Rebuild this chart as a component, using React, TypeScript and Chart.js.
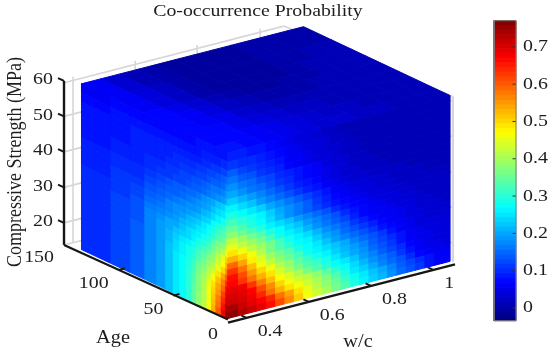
import React, { useEffect, useRef } from "react";
import { Chart, registerables } from "chart.js";

Chart.register(...registerables);

const TITLE = "Co-occurrence Probability";
const strengthTicks = [20, 30, 40, 50, 60];
const ageTicks = [0, 50, 100, 150];
const wcTicks = [0.4, 0.6, 0.8, 1];
const barTicks = [0, 0.1, 0.2, 0.3, 0.4, 0.5, 0.6, 0.7];
const barMin = -0.034;
const barMax = 0.77;

const strengthEdges = [14.8, 16.5, 18.2, 19.9, 21.6, 23.3, 25, 26.7, 28.4, 30.1, 31.8, 33.5, 35.2, 36.9, 38.6, 40.3, 42.3, 44.3, 46.3, 48.3, 50.3, 52.3, 54.3, 56.3, 58.8, 61.5];
const wcEdges = [0.34, 0.37, 0.4, 0.43, 0.46, 0.49, 0.52, 0.55, 0.58, 0.61, 0.64, 0.67, 0.7, 0.73, 0.76, 0.79, 0.82, 0.85, 0.88, 0.91, 0.94, 0.97, 1, 1.03, 1.054];
const ageEdges = [134, 108, 90, 77, 66, 58, 51, 45, 39, 34, 30, 25, 20, 16, 12, 7, 3, 0];
const topAgeEdges = [0, 12, 25, 39, 51, 66, 77, 90, 108, 134];
const topWcEdges = [0.34, 0.4, 0.46, 0.52, 0.58, 0.64, 0.7, 0.76, 0.82, 0.88, 0.94, 1, 1.054];

// probability x 100, rows from low strength to high strength, columns by w/c
const wcFaceValues = [
  [76,73,71,69,66,61,56,51,46,43,40,36,33,29,26,23,21,18,15,13,11,8,6,6],
  [74,71,69,67,64,58,54,49,45,41,38,35,31,28,25,22,20,17,14,12,10,8,6,6],
  [71,70,68,64,58,53,49,46,43,40,37,33,29,25,23,20,17,15,13,10,7,6,5,5],
  [70,69,67,61,56,50,46,43,41,38,34,30,27,24,21,18,16,14,11,8,6,5,5,4],
  [69,68,63,57,52,47,44,40,36,33,30,27,25,22,19,17,14,12,10,7,6,5,4,4],
  [67,63,58,53,49,44,40,36,33,31,28,25,22,20,18,15,13,11,8,6,5,5,4,4],
  [66,61,55,50,46,41,38,34,31,28,26,23,21,19,17,14,12,10,8,6,5,4,4,4],
  [63,58,52,46,42,38,35,32,28,26,24,22,20,17,15,13,11,8,6,5,4,4,4,3],
  [59,54,48,44,39,36,33,29,27,25,22,19,17,15,13,11,8,7,6,5,4,3,3,3],
  [53,50,46,41,36,33,30,27,26,23,20,18,15,13,11,9,7,6,5,4,4,3,3,3],
  [49,46,42,39,36,32,28,26,24,21,18,16,14,11,9,7,6,6,5,4,3,3,3,2],
  [45,42,39,36,32,28,26,24,21,18,16,14,12,9,7,6,6,5,4,4,3,3,2,2],
  [42,39,36,33,29,27,24,22,19,17,15,13,10,8,7,6,5,4,4,3,3,2,2,2],
  [38,35,32,29,26,24,22,19,17,15,13,10,8,7,6,5,4,4,3,3,2,2,2,2],
  [35,32,29,27,24,21,18,16,14,12,10,8,7,6,5,4,4,3,3,2,2,2,2,2],
  [32,30,28,26,23,20,18,16,14,11,9,7,6,5,4,4,3,3,2,2,2,2,2,1],
  [29,27,25,23,20,18,16,14,12,10,8,6,5,4,4,3,3,2,2,2,2,1,1,1],
  [26,24,22,19,17,15,13,11,9,8,6,5,4,3,3,2,2,2,2,1,1,1,1,1],
  [23,21,19,17,15,13,11,9,8,7,5,4,3,3,2,2,2,1,1,1,1,1,1,1],
  [20,18,16,15,13,11,10,8,7,6,5,4,3,2,2,2,1,1,1,1,1,1,1,1],
  [18,16,15,13,12,10,9,8,7,6,4,3,3,2,2,1,1,1,1,1,1,1,1,1],
  [16,14,13,11,10,9,7,6,5,4,4,3,2,2,1,1,1,1,1,1,1,1,1,1],
  [14,12,11,10,9,8,6,6,5,4,3,3,2,2,1,1,1,1,1,1,1,1,1,1],
  [11,10,10,9,8,7,6,5,4,4,3,2,2,1,1,1,1,1,1,1,1,1,1,1],
  [9,9,8,8,7,6,5,4,4,3,2,2,1,1,1,1,1,1,1,1,1,1,1,1],
];

// rows from low strength to high strength, columns from old age to young age
const ageFaceValues = [
  [10,12,14,17,19,22,25,27,30,34,38,42,47,53,60,68,76],
  [10,12,14,17,19,22,25,27,30,34,38,41,46,52,58,66,74],
  [10,12,14,17,19,22,25,27,30,34,37,41,46,51,57,64,71],
  [10,12,14,17,19,22,25,27,30,33,37,41,46,50,55,62,69],
  [10,12,14,17,19,22,25,27,30,33,37,40,45,49,54,59,67],
  [10,12,14,17,19,22,25,27,29,32,36,39,43,47,52,57,64],
  [10,12,14,17,19,22,25,27,29,31,35,37,41,44,49,54,60],
  [10,12,14,17,19,22,24,26,28,30,33,36,39,41,45,50,56],
  [10,12,14,17,19,21,24,26,28,29,32,34,37,39,43,47,53],
  [10,12,13,17,19,21,23,25,26,28,30,32,35,37,41,45,50],
  [10,12,13,17,19,20,22,23,24,26,28,30,32,35,38,41,46],
  [10,12,13,17,18,20,20,22,24,25,26,28,30,33,36,38,43],
  [10,11,13,16,17,18,19,21,22,23,25,26,28,30,33,35,39],
  [10,11,12,15,16,17,18,19,21,22,23,25,27,29,31,33,36],
  [9,11,12,14,15,17,18,18,19,20,21,23,24,27,29,31,34],
  [9,11,11,13,14,15,16,17,18,18,19,21,22,24,26,28,31],
  [9,10,10,12,13,14,14,15,16,17,18,19,20,22,24,25,28],
  [9,10,10,11,12,13,14,14,15,15,16,18,19,20,22,23,26],
  [8,9,9,10,11,11,12,12,13,14,14,15,16,17,18,19,21],
  [8,9,9,10,10,11,11,12,12,13,13,14,15,16,16,17,19],
  [8,8,9,9,9,10,10,11,11,11,12,12,13,14,14,15,17],
  [8,8,9,9,9,9,10,10,10,10,11,11,12,12,13,14,15],
  [8,8,9,9,9,9,9,9,9,9,9,10,10,11,11,12,12],
  [7,8,8,8,8,8,8,8,8,8,8,9,9,9,9,10,10],
  [6,7,7,7,7,7,7,7,7,7,8,8,8,8,8,8,8],
];

// top of the block: rows from young age to old age, columns by w/c
const topFaceValues = [
  [8,7,6,5,4,3,3,2,2,1,1,1],
  [7,7,6,5,4,3,2,2,1,1,1,1],
  [7,7,5,4,3,2,2,1,1,1,1,1],
  [7,6,5,3,2,1,1,1,1,1,1,1],
  [7,6,4,2,1,0,0,0,1,1,1,1],
  [7,5,3,1,0,-1,-1,0,0,1,1,1],
  [6,4,2,0,-1,-1,-1,-1,0,1,1,1],
  [6,4,2,0,-1,-1,-1,-1,0,0,1,1],
  [6,3,1,0,-1,-1,-1,-1,0,0,0,0],
];

const wallWc = [0.369, 0.569, 0.768, 0.971];
const wallStrength = [13.8, 20, 30, 40, 50, 59.5];

const project = (age: number, wc: number, strength: number) => ({
  x: 228 - 1.0933 * age + 311 * (wc - 0.34),
  y: 322 - 0.514 * age - 80 * (wc - 0.34) - 3.55 * (strength - 13.8),
});

const jet = (v: number) => {
  const t = Math.max(0, Math.min(1, (v - barMin) / (barMax - barMin)));
  const ch = (c: number) => Math.round(255 * Math.max(0, Math.min(1, 1.5 - Math.abs(4 * t - c))));
  return `rgb(${ch(3)},${ch(2)},${ch(1)})`;
};

const line = (data: any[], color: string, width: number, order: number, extra: any = {}) => ({
  data,
  borderColor: color,
  borderWidth: width,
  pointRadius: 0,
  tension: 0,
  fill: false,
  order,
  ...extra,
});

const cell = (data: any[], color: string, extra: any = {}) =>
  line([...data, data[0]], color, 1, 5, { cellColor: color, ...extra });

const buildDatasets = () => {
  const sets: any[] = [];
  // box walls behind the data
  const wall = "#d6d6d6";
  wallWc.forEach((w) => sets.push(line([project(150, w, 13.8), project(150, w, 60.5)], wall, 1.6, 10)));
  wallStrength.forEach((z) => sets.push(line([project(150, 0.34, z), project(150, 1.047, z)], wall, 1.6, 10)));
  sets.push(line([project(150, 1.047, 59.5), project(0, 1.063, 61)], wall, 1.6, 10));
  sets.push(line([project(0, 1.063, 14.5), project(0, 1.063, 61)], wall, 2.4, 10));
  strengthTicks.forEach((z) => sets.push(line([project(0, 1.04, z), project(0, 1.063, z)], wall, 1.4, 10)));

  wcFaceValues.forEach((row, r) =>
    row.forEach((v, c) => {
      sets.push(
        cell(
          [
            project(0, wcEdges[c], strengthEdges[r]),
            project(0, wcEdges[c + 1], strengthEdges[r]),
            project(0, wcEdges[c + 1], strengthEdges[r + 1]),
            project(0, wcEdges[c], strengthEdges[r + 1]),
          ],
          jet(v / 100)
        )
      );
    })
  );
  ageFaceValues.forEach((row, r) =>
    row.forEach((v, c) => {
      sets.push(
        cell(
          [
            project(ageEdges[c], 0.34, strengthEdges[r]),
            project(ageEdges[c + 1], 0.34, strengthEdges[r]),
            project(ageEdges[c + 1], 0.34, strengthEdges[r + 1]),
            project(ageEdges[c], 0.34, strengthEdges[r + 1]),
          ],
          jet(v / 100)
        )
      );
    })
  );
  const zTop = strengthEdges[strengthEdges.length - 1];
  topFaceValues.forEach((row, r) =>
    row.forEach((v, c) => {
      sets.push(
        cell(
          [
            project(topAgeEdges[r], topWcEdges[c], zTop),
            project(topAgeEdges[r], topWcEdges[c + 1], zTop),
            project(topAgeEdges[r + 1], topWcEdges[c + 1], zTop),
            project(topAgeEdges[r + 1], topWcEdges[c], zTop),
          ],
          jet(v / 100)
        )
      );
    })
  );

  // axes
  const ink = "#161616";
  sets.push(line([project(150, 0.34, 13.8), project(150, 0.34, 60)], ink, 2.4, 1));
  sets.push(line([project(150, 0.34, 13.8), project(0, 0.34, 14.5)], ink, 2.2, 1));
  sets.push(line([project(0, 0.34, 13.6), project(0, 1.07, 13.6)], ink, 2.4, 1));
  strengthTicks.forEach((z) => sets.push(line([project(150, 0.34, z), project(155.5, 0.34, z)], ink, 2, 1)));
  ageTicks.slice(1, 3).forEach((a) => sets.push(line([project(a, 0.34, 14), project(a, 0.36, 14)], ink, 1.8, 1)));
  wcTicks.forEach((w) => sets.push(line([project(0, w, 13.6), project(5, w, 13.6)], ink, 1.8, 1)));

  // colour bar, one strip for each of the map's 64 levels
  for (let i = 0; i < 64; i++) {
    const lo = barMin + ((barMax - barMin) * i) / 64;
    const hi = barMin + ((barMax - barMin) * (i + 1)) / 64;
    sets.push(
      cell(
        [{ x: 494, y: lo }, { x: 516, y: lo }, { x: 516, y: hi }, { x: 494, y: hi }],
        jet((lo + hi) / 2),
        { yAxisID: "cb" }
      )
    );
  }
  sets.push(
    line(
      [{ x: 494, y: barMin }, { x: 516, y: barMin }, { x: 516, y: barMax }, { x: 494, y: barMax }, { x: 494, y: barMin }],
      "#7d7d7d",
      1,
      1,
      { yAxisID: "cb" }
    )
  );
  barTicks.forEach((v) =>
    sets.push(line([{ x: 512.5, y: v }, { x: 516, y: v }], "#333333", 1, 1, { yAxisID: "cb" }))
  );
  return sets;
};

const cellPainter = {
  id: "cellPainter",
  beforeDatasetDraw(chart: any, args: any) {
    const ds = chart.data.datasets[args.index];
    if (!ds.cellColor) return;
    const pts = args.meta.data;
    const ctx = chart.ctx;
    ctx.save();
    ctx.beginPath();
    pts.forEach((p: any, i: number) => (i ? ctx.lineTo(p.x, p.y) : ctx.moveTo(p.x, p.y)));
    ctx.closePath();
    ctx.fillStyle = ds.cellColor;
    ctx.fill();
    ctx.restore();
  },
};

const textPainter = {
  id: "textPainter",
  afterDraw(chart: any) {
    const ctx = chart.ctx;
    const put = (s: string, x: number, y: number, align: CanvasTextAlign, size = 17, sx = 1.17) => {
      ctx.save();
      ctx.translate(x, y);
      ctx.scale(sx, 1);
      ctx.font = `${size}px "Liberation Serif"`;
      ctx.fillStyle = "#1e1e1e";
      ctx.textAlign = align;
      ctx.textBaseline = "middle";
      ctx.fillText(s, 0, 0);
      ctx.restore();
    };
    put(TITLE, 258, 12, "center", 16.5, 1.2);
    strengthTicks.forEach((z) => {
      const p = project(150, 0.34, z);
      put(String(z), 53, p.y - 1, "right");
    });
    ageTicks.forEach((a) => {
      const p = project(a, 0.34, 13.8);
      put(String(a), p.x - 10, p.y + 13, "right");
    });
    wcTicks.forEach((w) => {
      const p = project(0, w, 13.8);
      put(String(w), p.x + 11, p.y + 14.5, "left");
    });
    put("Age", 113, 338, "center", 18.5, 1.1);
    put("w/c", 358, 342, "center", 18.5, 1.1);
    barTicks.forEach((v) => {
      put(String(v), 523, chart.scales.cb.getPixelForValue(v), "left");
    });
    ctx.save();
    ctx.translate(16, 162);
    ctx.rotate(-Math.PI / 2);
    ctx.scale(1, 1.15);
    ctx.font = '18px "Liberation Serif"';
    ctx.fillStyle = "#1e1e1e";
    ctx.textAlign = "center";
    ctx.textBaseline = "middle";
    ctx.fillText("Compressive Strength (MPa)", 0, 0);
    ctx.restore();
  },
};

export default function App() {
  const ref = useRef<HTMLCanvasElement | null>(null);
  useEffect(() => {
    document.body.style.margin = "0";
    const perPx = (barMax - barMin) / 300;
    const chart = new Chart(ref.current as HTMLCanvasElement, {
      type: "line",
      data: { datasets: buildDatasets() },
      plugins: [cellPainter, textPainter],
      options: {
        responsive: false,
        animation: false,
        events: [],
        layout: { padding: 0 },
        plugins: { legend: { display: false }, tooltip: { enabled: false }, title: { display: false } },
        scales: {
          x: { type: "linear", display: false, min: 0, max: 550 },
          y: { type: "linear", display: false, min: 0, max: 353, reverse: true },
          cb: { type: "linear", display: false, min: barMin - 32.3 * perPx, max: barMax + 20.7 * perPx },
        },
      },
    } as any);
    return () => chart.destroy();
  }, []);
  return <canvas ref={ref} width={550} height={353} style={{ display: "block", filter: "blur(0.5px)" }} />;
}
